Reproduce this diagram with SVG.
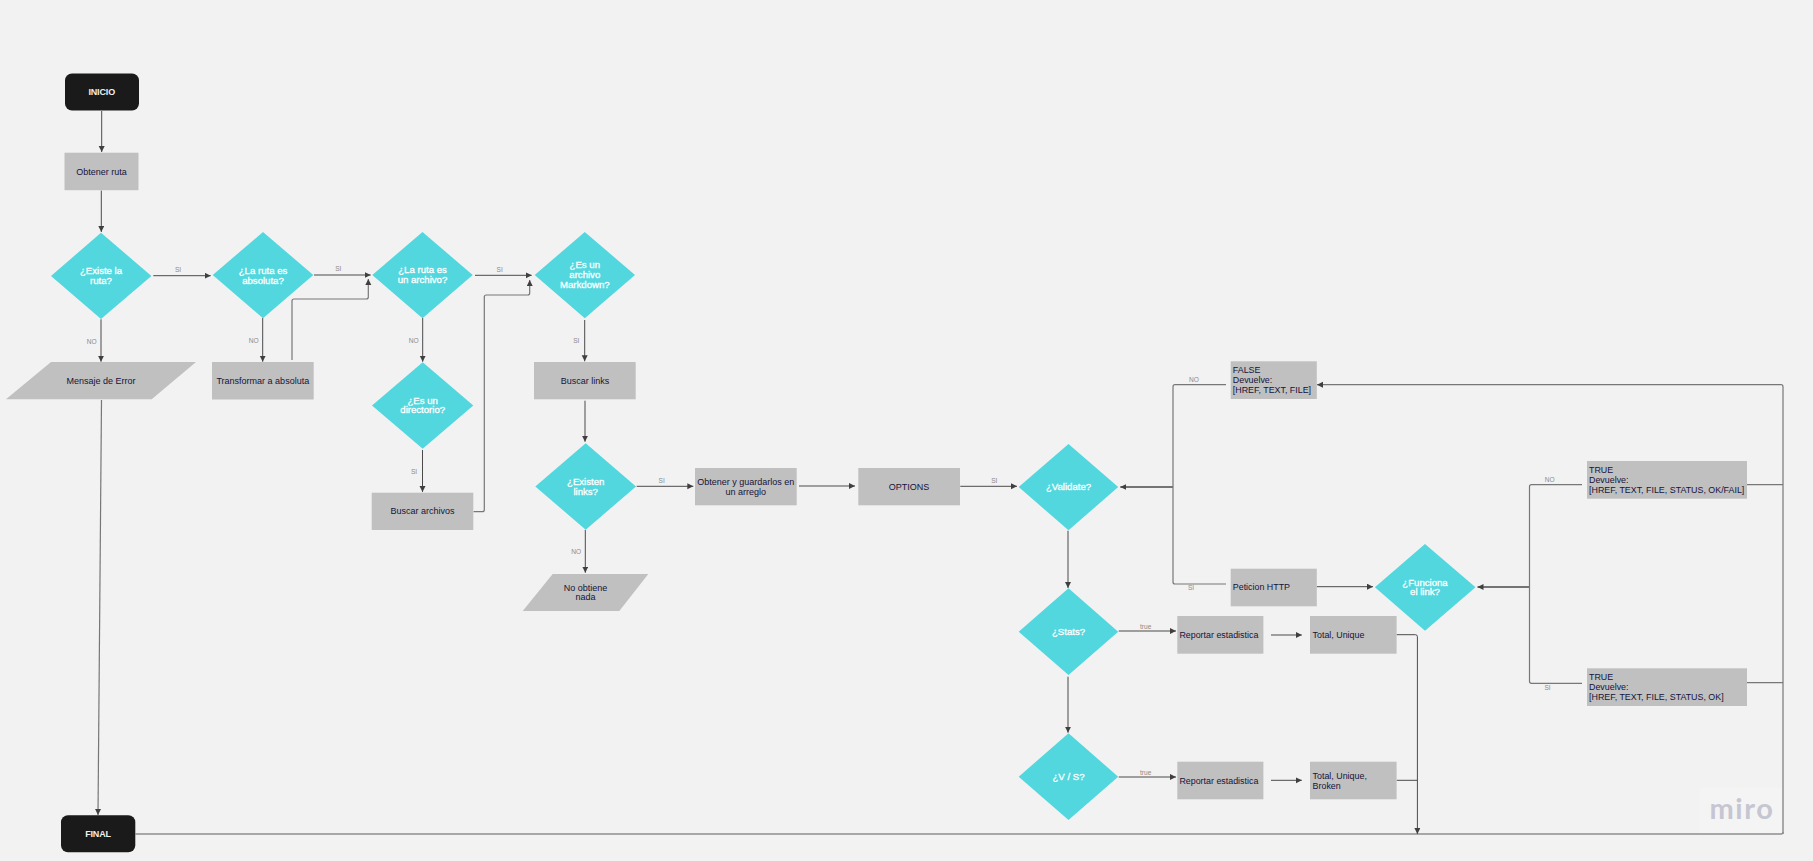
<svg xmlns="http://www.w3.org/2000/svg" width="1813" height="861" viewBox="0 0 1813 861">
<style>
text{font-family:"Liberation Sans",Arial,sans-serif}
.d{fill:#52d7de}
.r{fill:#c0c0c0}
.t{fill:#1a1a1a}
.dt{fill:#fff;stroke:#fff;stroke-width:.3px;font-size:9.6px;text-anchor:middle}
.tt{fill:#f0f0f0;font-size:9px;font-weight:700;letter-spacing:-.15px;text-anchor:middle}
.rt{fill:#15133a;font-size:9px;text-anchor:middle}
.lt{fill:#15133a;font-size:8.9px}
.l{fill:#8a8a8a;font-size:6.6px;text-anchor:middle}
.c{fill:none;stroke:#4a4a4a;stroke-width:1;marker-end:url(#a)}
.n{fill:none;stroke:#4a4a4a;stroke-width:1}
.g{fill:none;stroke:#777;stroke-width:1.2}
.gg{fill:none;stroke:#8f8f8f;stroke-width:1.6}
</style>
<defs>
<marker id="a" markerUnits="userSpaceOnUse" markerWidth="7" markerHeight="7" refX="6" refY="3" orient="auto"><path d="M0 0L6 3L0 6Z" fill="#3f3f3f"/></marker>
</defs>
<rect width="1813" height="861" fill="#f2f2f2"/>
<g id="watermark">
<rect x="1700" y="788" width="83" height="45" fill="#f4f4f4"/>
<text x="1742" y="819.3" style="font-family:Lato,'Liberation Sans',sans-serif;font-weight:700;letter-spacing:1.6px" font-size="29" fill="#c6c6d2" text-anchor="middle">miro</text>
</g>
<g id="connectors">
<path class="c" d="M101.7 111V152"/>
<path class="c" d="M101.3 190.5V232"/>
<path class="c" d="M153.3 275.7H210.7"/>
<path class="c" d="M314 275H370.7"/>
<path class="c" d="M101 319.3V361.7"/>
<path class="c" d="M262.7 318V361.7"/>
<path class="c" d="M422.7 318V361.7"/>
<path class="g" marker-end="url(#a)" d="M292 360V301Q292 299 294 299H366.3Q368.3 299 368.3 297V279"/>
<path class="c" d="M475 275.3H531.7"/>
<path class="c" d="M422.5 450V492"/>
<path class="g" marker-end="url(#a)" d="M473.5 511.7H482.3Q484.3 511.7 484.3 509.7V297Q484.3 295 486.3 295H527.7Q529.7 295 529.7 293V280"/>
<path class="c" d="M584.7 320V361.3"/>
<path class="c" d="M585 400.7V441.7"/>
<path class="c" d="M585.3 530V572.7"/>
<path class="c" d="M636.7 486.3H693.3"/>
<path class="c" d="M799 486H855"/>
<path class="c" d="M960.3 486.3H1017"/>
<path class="g" marker-end="url(#a)" d="M101.5 400L98 815"/>
<path class="c" d="M1068 530.7V588"/>
<path class="c" d="M1068 676.7V732.7"/>
<path class="c" d="M1118.7 631H1176"/>
<path class="c" d="M1118.7 777H1176"/>
<path class="c" d="M1271 635H1301.8"/>
<path class="c" d="M1271 780.3H1301.8"/>
<path class="c" d="M1316.8 586.7H1373"/>
<path class="c" style="stroke-width:1.6" d="M1173 487H1120.3"/>
<path class="g" d="M1226 384.7H1175Q1173 384.7 1173 386.7V582Q1173 584 1175 584H1226"/>
<path class="c" style="stroke-width:1.6" d="M1529.5 587H1477.5"/>
<path class="g" d="M1582 484.7H1531.5Q1529.5 484.7 1529.5 486.7V681.3Q1529.5 683.3 1531.5 683.3H1582"/>
<path class="g" marker-end="url(#a)" d="M1783 834V386.7Q1783 384.7 1781 384.7H1317"/>
<path class="g" d="M1747 484.7H1783"/>
<path class="g" d="M1747 682.7H1783"/>
<path class="gg" d="M135.5 834H1781Q1783 834 1783 832"/>
<path class="c" d="M1396.6 634.7H1415.4Q1417.4 634.7 1417.4 636.7V834"/>
<path class="n" d="M1396.6 780.3H1417.4"/>
<text class="l" x="178" y="272">SI</text>
<text class="l" x="338.3" y="270.6">SI</text>
<text class="l" x="499.7" y="271.6">SI</text>
<text class="l" x="91.7" y="343.6">NO</text>
<text class="l" x="253.7" y="342.6">NO</text>
<text class="l" x="413.7" y="342.6">NO</text>
<text class="l" x="576.3" y="342.6">SI</text>
<text class="l" x="414" y="473.6">SI</text>
<text class="l" x="661.7" y="482.6">SI</text>
<text class="l" x="576.3" y="553.6">NO</text>
<text class="l" x="994.3" y="482.6">SI</text>
<text class="l" x="1194" y="382.3">NO</text>
<text class="l" x="1191" y="590">SI</text>
<text class="l" x="1549.6" y="481.6">NO</text>
<text class="l" x="1547.5" y="690">SI</text>
<text class="l" x="1145.7" y="629">true</text>
<text class="l" x="1145.7" y="775">true</text>
</g>
<g id="inicio"><rect class="t" x="65" y="73.5" width="74" height="37" rx="7"/><text class="tt" x="101.7" y="94.6">INICIO</text></g>
<g id="obtener-ruta"><rect class="r" x="64.5" y="152.7" width="74" height="37.5"/><text class="rt" x="101.5" y="174.5">Obtener ruta</text></g>
<g id="existe-ruta"><polygon class="d" points="51,276 101,232.7 151.4,276 101,319"/><text class="dt" x="101" y="274">¿Existe la</text><text class="dt" x="101" y="284">ruta?</text></g>
<g id="ruta-absoluta"><polygon class="d" points="212.7,275 263,232 313.3,275 263,318.3"/><text class="dt" x="263" y="274">¿La ruta es</text><text class="dt" x="263" y="284">absoluta?</text></g>
<g id="ruta-archivo"><polygon class="d" points="372.3,275 422.5,232 472.7,275 422.5,318.3"/><text class="dt" x="422.5" y="273">¿La ruta es</text><text class="dt" x="422.5" y="283">un archivo?</text></g>
<g id="markdown"><polygon class="d" points="534.7,275 584.8,232 635,275 584.8,318.3"/><text class="dt" x="584.8" y="268">¿Es un</text><text class="dt" x="584.8" y="278">archivo</text><text class="dt" x="584.8" y="288">Markdown?</text></g>
<g id="mensaje-error"><polygon class="r" points="51,362 196,362 151.7,399.3 6,399.3"/><text class="rt" x="101" y="384">Mensaje de Error</text></g>
<g id="transformar"><rect class="r" x="212" y="362" width="101.7" height="37.5"/><text class="rt" x="262.8" y="384">Transformar a absoluta</text></g>
<g id="directorio"><polygon class="d" points="372,405.5 422.7,362.3 473.3,405.5 422.7,448.7"/><text class="dt" x="422.7" y="404">¿Es un</text><text class="dt" x="422.7" y="412.7">directorio?</text></g>
<g id="buscar-archivos"><rect class="r" x="371.7" y="492.7" width="101.6" height="37.3"/><text class="rt" x="422.5" y="514">Buscar archivos</text></g>
<g id="buscar-links"><rect class="r" x="534" y="362" width="101.7" height="37.3"/><text class="rt" x="585" y="384">Buscar links</text></g>
<g id="existen-links"><polygon class="d" points="535.3,486.5 585.7,443.3 636,486.5 585.7,529.7"/><text class="dt" x="585.7" y="485">¿Existen</text><text class="dt" x="585.7" y="495">links?</text></g>
<g id="no-obtiene"><polygon class="r" points="552.7,574 648.3,574 619.3,611 522.7,611"/><text class="rt" x="585.5" y="591">No obtiene</text><text class="rt" x="585.5" y="600">nada</text></g>
<g id="guardar"><rect class="r" x="695" y="468" width="101.7" height="37.3"/><text class="rt" x="745.8" y="485">Obtener y guardarlos en</text><text class="rt" x="745.8" y="495">un arreglo</text></g>
<g id="options"><rect class="r" x="858.3" y="468" width="101.7" height="37.3"/><text class="rt" x="909" y="489.5">OPTIONS</text></g>
<g id="validate"><polygon class="d" points="1018.7,487 1068.5,444 1118.2,487 1068.5,530.3"/><text class="dt" x="1068.5" y="490">¿Validate?</text></g>
<g id="false"><rect class="r" x="1230.7" y="361.3" width="86.1" height="37.7"/><text class="lt" x="1232.8" y="372.7">FALSE</text><text class="lt" x="1232.8" y="382.7">Devuelve:</text><text class="lt" x="1232.8" y="392.7">[HREF, TEXT, FILE]</text></g>
<g id="peticion"><rect class="r" x="1230.7" y="568.7" width="86.1" height="37.6"/><text class="lt" x="1232.8" y="589.7">Peticion HTTP</text></g>
<g id="funciona"><polygon class="d" points="1374.9,587.3 1425,544 1475.5,587.3 1425,630.7"/><text class="dt" x="1425" y="586">¿Funciona</text><text class="dt" x="1425" y="594.7">el link?</text></g>
<g id="true-fail"><rect class="r" x="1587" y="461" width="160" height="37.7"/><text class="lt" x="1589" y="472.7">TRUE</text><text class="lt" x="1589" y="482.7">Devuelve:</text><text class="lt" x="1589" y="492.7">[HREF, TEXT, FILE, STATUS, OK/FAIL]</text></g>
<g id="true-ok"><rect class="r" x="1587" y="668.3" width="160" height="37.7"/><text class="lt" x="1589" y="679.5">TRUE</text><text class="lt" x="1589" y="689.7">Devuelve:</text><text class="lt" x="1589" y="699.7">[HREF, TEXT, FILE, STATUS, OK]</text></g>
<g id="stats"><polygon class="d" points="1018.7,631.7 1068.5,588.3 1118.2,631.7 1068.5,675"/><text class="dt" x="1068.5" y="635">¿Stats?</text></g>
<g id="reportar-1"><rect class="r" x="1177.3" y="616" width="86.1" height="37.7"/><text class="lt" x="1179.4" y="638">Reportar estadistica</text></g>
<g id="total-1"><rect class="r" x="1310" y="616" width="86.6" height="37.7"/><text class="lt" x="1312.6" y="638">Total, Unique</text></g>
<g id="vs"><polygon class="d" points="1018.7,776.7 1068.5,733.3 1118.2,776.7 1068.5,820"/><text class="dt" x="1068.5" y="780">¿V / S?</text></g>
<g id="reportar-2"><rect class="r" x="1177.3" y="761.7" width="86.1" height="37.6"/><text class="lt" x="1179.4" y="783.7">Reportar estadistica</text></g>
<g id="total-2"><rect class="r" x="1310" y="761.7" width="86.6" height="37.6"/><text class="lt" x="1312.6" y="778.7">Total, Unique,</text><text class="lt" x="1312.6" y="788.7">Broken</text></g>
<g id="final"><rect class="t" x="61" y="815.3" width="74.3" height="37" rx="7"/><text class="tt" x="98" y="836.7">FINAL</text></g>
</svg>
